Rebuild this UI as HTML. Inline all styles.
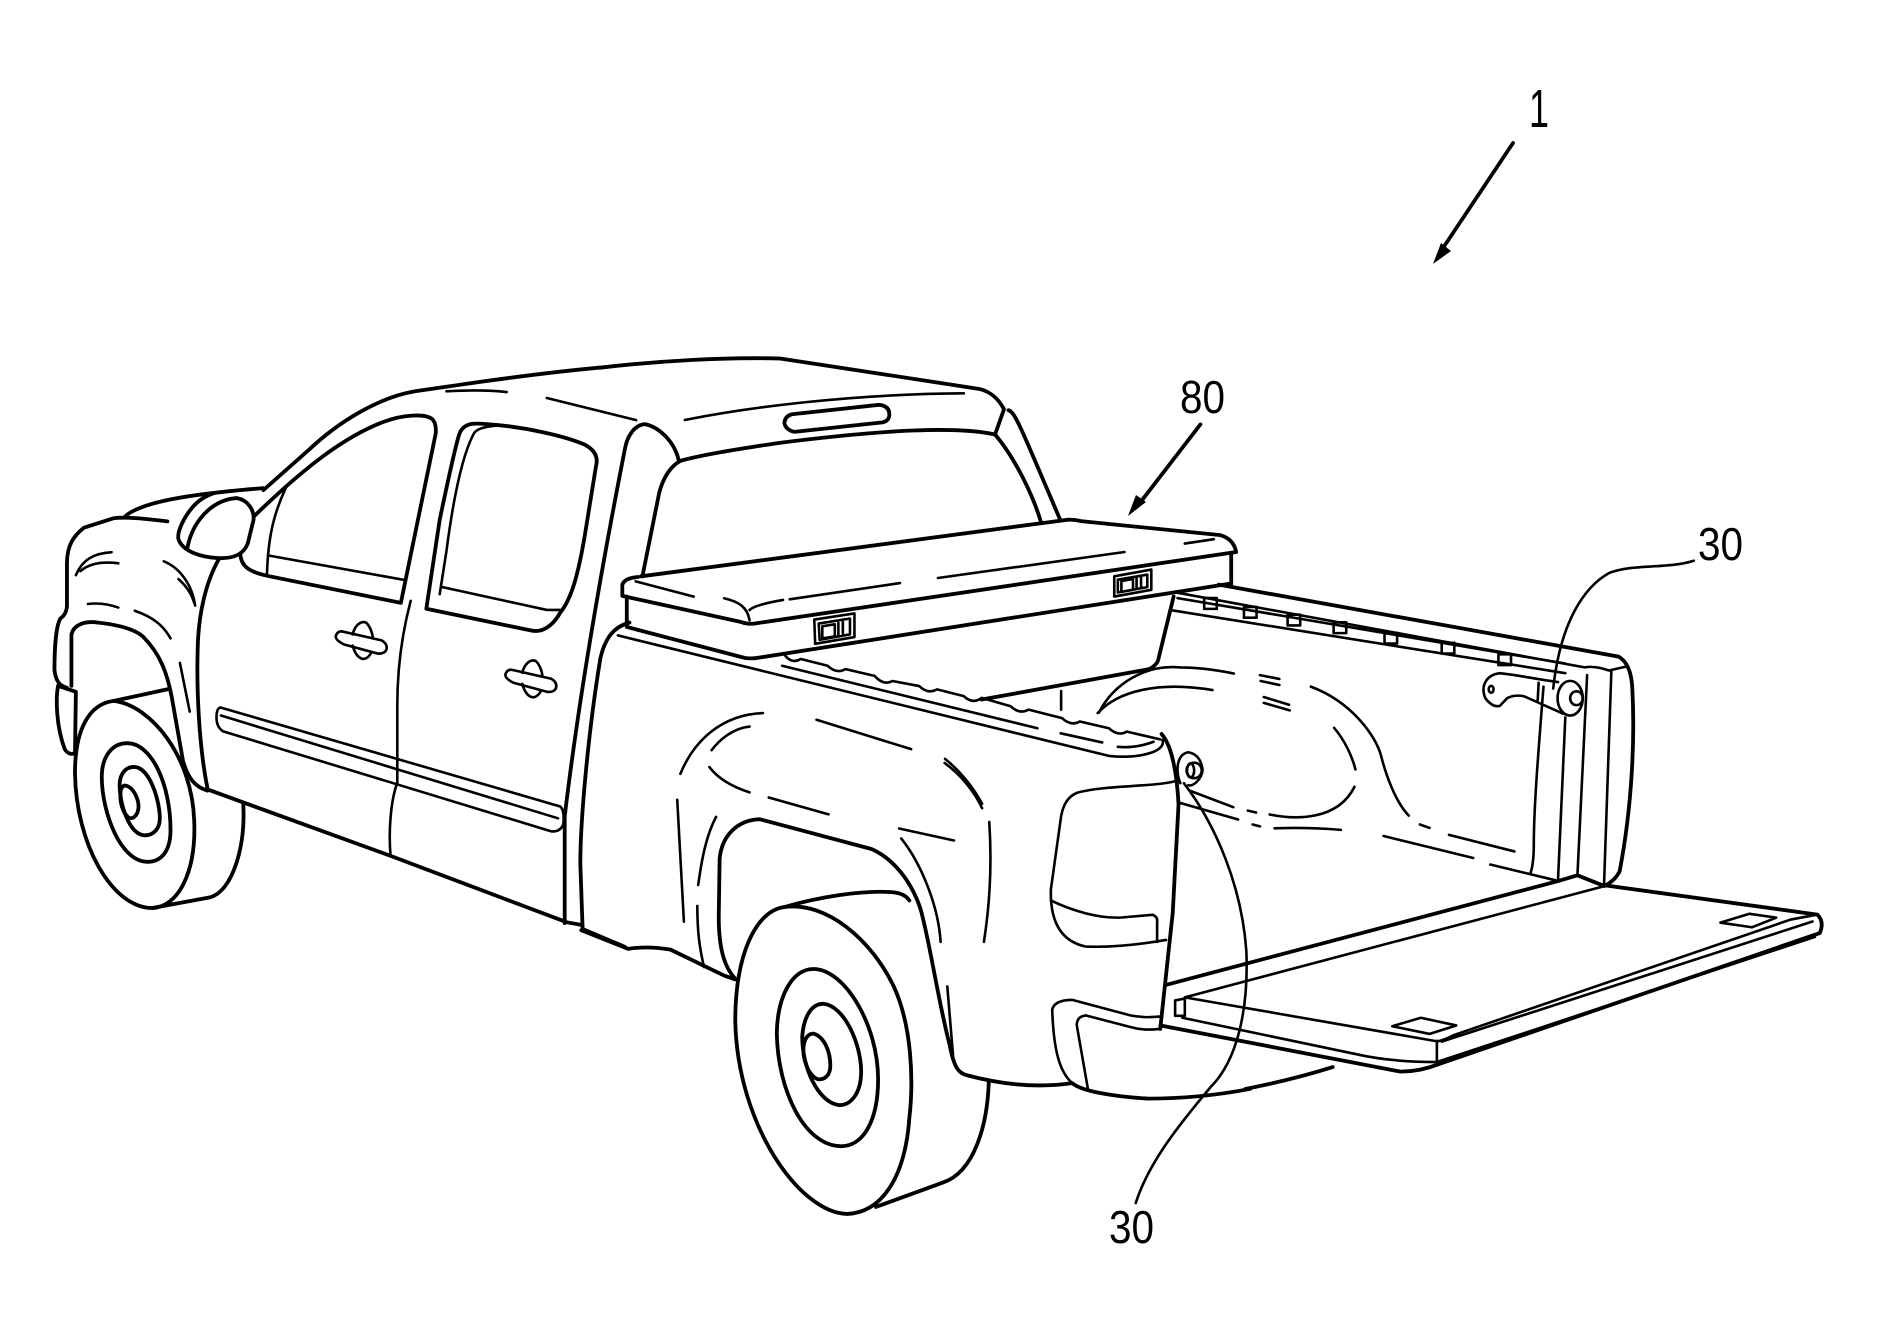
<!DOCTYPE html>
<html><head><meta charset="utf-8"><style>
html,body{margin:0;padding:0;background:#fff;width:1902px;height:1328px;overflow:hidden}
svg{display:block}
path,ellipse{fill:none;stroke:#000;stroke-width:3.8;stroke-linecap:round;stroke-linejoin:round;vector-effect:non-scaling-stroke}
.t,.t path,.t ellipse{stroke-width:2.6}
text{font-family:"Liberation Sans",sans-serif;fill:#000}
</style></head><body>
<svg xmlns="http://www.w3.org/2000/svg" width="1902" height="1328" viewBox="0 0 1902 1328">
<rect width="1902" height="1328" fill="#fff"/>

<!-- front of truck -->
<g transform="translate(0,330) scale(.4464,.3954)">
<path d="M1344 95C1200 110 1050 135 930 155C850 170 760 230 690 305L590 405"/>
<path d="M570 470C680 350 770 270 860 232C900 215 950 210 968 225Q978 235 976 262L898 690L600 622C560 612 540 600 538 565"/>
<path d="M590 400C500 408 400 420 340 440C310 450 290 460 280 472"/>
<path d="M375 484C320 476 280 472 255 476L188 500C165 520 150 545 150 590L150 700Q148 720 135 730C125 750 122 810 122 860C125 890 135 900 150 905"/>
<path d="M420 550C430 490 470 430 530 425C555 430 570 455 568 480L555 540C545 570 520 578 490 577C450 575 410 560 400 530C395 510 415 470 430 450C445 430 460 420 480 412"/>
<path d="M490 580C460 640 445 720 443 800C440 900 445 1050 465 1160"/>
<path d="M160 900L160 770C165 745 190 735 220 740C260 745 300 755 320 775C360 820 375 870 385 930L410 1090C420 1130 435 1155 465 1165"/>
<path d="M465 1162L875 1330L1270 1498L1305 1505M1305 1515L1400 1560"/>
<path d="M255 938C340 950 430 1080 435 1240C440 1370 400 1460 340 1462C250 1460 170 1300 168 1120C168 1010 200 945 255 938"/>
<path d="M255 938L378 908M545 1200C550 1310 520 1420 470 1435L340 1462"/>
<path d="M285 1045C340 1045 382 1150 382 1265C382 1320 360 1345 330 1345C270 1345 228 1220 228 1130C228 1080 250 1045 285 1045"/>
<path d="M300 1105C335 1105 358 1190 358 1235C358 1260 345 1278 325 1278C290 1278 268 1200 268 1150C268 1125 280 1105 300 1105"/>
<path d="M280 1152C300 1155 312 1190 310 1210C308 1230 295 1240 287 1232C275 1220 268 1195 270 1170C270 1160 275 1152 280 1152"/>
<path d="M130 900C125 930 125 1000 145 1060C150 1070 160 1075 168 1070L170 915L130 900"/>
<path d="M955 705L985 480C1000 400 1020 290 1030 260C1040 235 1060 235 1090 238C1180 245 1270 270 1310 290C1335 305 1340 325 1335 345L1310 520C1295 620 1280 680 1255 715C1235 755 1210 765 1190 760Z"/>
<path d="M1520 328C1510 280 1475 245 1445 238C1420 240 1405 270 1400 300C1360 530 1300 900 1265 1230L1265 1500"/>
<path d="M1410 740C1375 750 1355 780 1345 830C1320 1000 1300 1230 1300 1350L1305 1510"/>
<g class="t">
<path d="M600 570L905 632M640 400C615 460 600 520 598 622"/>
<path d="M920 685C900 770 890 860 890 950L890 1145C875 1190 870 1270 875 1330"/>
<path d="M985 668L1000 560C1015 430 1035 320 1060 265C1065 250 1085 245 1110 242M990 650L1225 708L1255 708"/>
<path d="M1000 155Q1080 150 1135 157M1225 172L1425 228"/>
<path d="M170 620C185 580 210 565 250 562M180 610C200 590 230 585 265 590M367 585C400 600 430 640 437 697M400 630C420 650 430 670 435 690M197 693Q230 688 265 702M302 710C340 725 365 745 382 780M403 842L425 965"/>
<path d="M765 762L855 785Q870 795 865 810Q860 820 845 818L770 795Q752 785 752 775Q755 762 765 762M790 770C795 745 810 735 820 740C830 750 835 770 835 780M790 798C795 820 805 832 815 832C825 830 830 820 832 815"/>
<path transform="translate(380,97)" d="M765 762L855 785Q870 795 865 810Q860 820 845 818L770 795Q752 785 752 775Q755 762 765 762M790 770C795 745 810 735 820 740C830 750 835 770 835 780M790 798C795 820 805 832 815 832C825 830 830 820 832 815"/>
<path d="M495 955L1255 1205Q1265 1215 1262 1250Q1255 1270 1235 1268L500 1015Q485 1005 485 980Q485 955 495 955M495 975L1250 1235"/>
</g>
</g>

<!-- cab rear, toolbox, bed rail -->
<g transform="translate(600,340) scale(.4464,.3376)">
<path d="M0 82C130 62 280 50 405 55L850 145C880 155 895 180 905 205L885 280C800 255 640 265 400 305C300 325 230 340 180 358"/>
<path d="M885 280C930 350 970 460 988 540M915 208C930 215 940 250 1030 530"/>
<path d="M180 358C150 380 135 430 130 470L95 700"/>
<path d="M430 220L625 192Q650 195 648 225Q645 245 625 245L435 272Q415 265 413 245Q415 225 430 220"/>
<path d="M92 700L1050 532Q1065 532 1080 537L1390 578Q1420 590 1425 628L345 840Q330 842 315 835L50 758L50 725Q55 705 85 702"/>
<path d="M60 760L60 850L325 942Q340 945 360 940L1410 722M1414 635L1414 725"/>
<path d="M1285 760L1250 950Q1245 965 1230 975L855 1065"/>
<g class="t">
<path d="M190 237C330 200 560 160 815 158"/>
<path d="M80 715L210 760M278 765C310 775 330 790 335 830M335 800Q345 785 410 770M425 768L672 720M757 705L1175 628M1310 603L1375 590"/>
<path d="M480 828L570 810L570 880L482 900ZM490 840L560 825L560 872L492 888ZM498 848L526 842L526 878L498 884ZM534 838L534 874M544 836L544 872"/>
<path d="M1152 700L1235 680L1235 740L1152 760ZM1160 710L1226 695L1226 732L1160 748ZM1168 714L1194 708L1194 740L1168 746ZM1202 704L1202 736M1212 702L1212 734"/>
<path d="M40 875L1140 1232Q1200 1240 1240 1220Q1265 1205 1260 1185"/>
<path d="M408 965L980 1150"/>
<path d="M415 935Q430 960 450 945L510 965Q530 990 550 975L615 995Q635 1025 655 1010L715 1025Q735 1050 755 1035L815 1055Q835 1080 855 1060L920 1085Q940 1110 960 1095L1035 1120Q1055 1145 1075 1130L1140 1150Q1160 1175 1180 1160L1255 1183"/>
<path d="M1032 1165L1125 1192M1160 1205Q1200 1210 1240 1190M1033 1040L1033 1095"/>
<path d="M1118 1103C1150 1020 1220 960 1300 970C1340 970 1390 980 1420 988M1115 1105C1160 1040 1250 1010 1372 1037M1480 1010L1522 1022M1487 1075L1545 1097"/>
<path d="M365 1105C270 1110 210 1190 180 1285M335 1145C300 1150 270 1180 250 1215M245 1265C265 1300 300 1325 335 1340M378 1355L512 1405M485 1125L697 1212M772 1253C810 1290 840 1340 856 1387"/>
</g>
<path d="M1345 250L1205 490"/>
</g>

<!-- rear wheel, bumper -->
<g transform="translate(550,700) scale(.4464,.387)">
<path d="M525 535C620 520 720 620 770 740C810 840 815 980 805 1080C795 1240 740 1325 665 1328C560 1325 420 1100 415 830C415 660 460 545 525 535"/>
<path d="M525 535C600 510 700 490 770 497Q795 500 805 518M983 985C980 1100 950 1220 880 1247L730 1310"/>
<path d="M590 695C660 695 735 840 735 980C735 1090 700 1155 650 1153C570 1150 510 1010 508 860C510 760 545 695 590 695"/>
<path d="M612 785C660 790 697 890 697 960C697 1015 675 1047 648 1047C600 1040 565 950 565 870C568 820 585 785 612 785"/>
<path d="M590 862C615 870 628 910 628 945C628 970 615 982 600 980C578 970 565 925 568 895C570 875 578 862 590 862"/>
<path d="M415 720C390 690 378 640 378 560L380 410C385 350 420 310 470 308L720 385C770 410 810 470 830 540C850 620 870 780 895 890C905 950 915 965 935 970C1000 990 1080 1005 1170 990C1190 1010 1260 1025 1340 1030C1420 1030 1500 1020 1568 1005"/>
<path d="M70 595L175 643Q220 635 270 645L390 712L415 722"/>
<path d="M1370 88C1395 120 1405 200 1408 270L1395 550L1367 850"/>
<g class="t">
<path d="M285 258L300 573M372 302C350 350 340 410 332 478M330 532C330 600 335 640 345 690M885 152C925 190 950 230 968 268M782 332L905 363M787 358C830 420 870 530 875 625M984 315C990 420 985 530 972 625M890 740L903 920"/>
<path d="M1400 210C1350 225 1240 220 1180 240C1160 250 1150 270 1145 300L1122 490C1120 580 1150 625 1200 637C1260 640 1330 630 1380 620M1122 518C1170 545 1230 565 1280 562L1350 555Q1362 560 1360 575L1360 625"/>
<path d="M1170 990C1140 960 1128 900 1125 800Q1130 775 1170 775L1300 815Q1330 822 1365 818M1205 1005L1180 840Q1180 818 1200 815L1300 845Q1330 855 1365 850"/>
<path d="M1420 215C1490 320 1550 480 1560 650C1565 800 1540 930 1480 1000C1400 1110 1340 1200 1312 1300"/>
<path d="M1412 215C1400 180 1405 140 1430 135C1455 140 1460 165 1462 180C1460 205 1440 225 1430 220"/>
<ellipse cx="1443" cy="182" rx="17" ry="20"/><ellipse cx="1435" cy="182" rx="8" ry="18"/>
</g>
</g>

<!-- bed, tailgate -->
<g transform="translate(1100,498) scale(.4847,.385)">
<path d="M245 225L1070 412Q1095 430 1098 490C1104 620 1098 800 1072 970Q1062 995 1040 1008"/>
<path d="M135 1265L945 995L985 980L1035 1005L1480 1082Q1495 1100 1485 1130L700 1470Q660 1490 620 1490L125 1370"/>
<path d="M300 1535Q400 1510 480 1478"/>
<g class="t">
<path d="M155 245L1000 440Q1020 435 1050 448L1085 438M160 260L960 430M150 292L960 455"/>
<path d="M215 260h26v28h-26zM297 283h26v28h-26zM387 303h26v28h-26zM482 323h26v28h-26zM587 350h26v28h-26zM705 376h26v28h-26zM822 406h26v28h-26z"/>
<path d="M1005 460L985 980M1055 450L1040 1000M960 570L945 990M915 490C905 650 895 800 895 900Q895 950 888 975"/>
<g transform="translate(-5,0)">
<path d="M800 520C790 490 800 460 830 455C870 460 900 470 950 478M800 520Q815 545 830 540L845 520Q860 510 880 515L960 560M910 480L908 525"/>
<ellipse cx="975" cy="520" rx="26" ry="45"/><ellipse cx="988" cy="520" rx="13" ry="18"/><ellipse cx="812" cy="497" rx="5" ry="9"/>
</g>
<path d="M1225 163C1170 185 1100 170 1050 195C1000 230 950 320 935 495"/>
<path d="M175 1297L1035 1010M175 1297L690 1410Q700 1415 730 1395L1425 1095L1480 1082M705 1412L1470 1100M170 1350L530 1445Q600 1465 695 1465L1475 1140M695 1410L695 1465"/>
<path d="M155 1305L175 1300L175 1345L155 1345Z"/>
<path d="M1280 1103L1340 1080L1395 1090L1345 1115ZM603 1372L662 1350L735 1370L680 1392Z"/>
<path d="M185 760L275 803M165 792L285 835M305 812L322 817M315 848L330 853M350 822C400 835 490 840 525 750M360 858Q430 855 497 862M585 878L770 935M720 875L855 918M805 952L940 993M660 848L680 857"/>
<path d="M435 490C520 530 570 620 580 670C590 720 610 790 637 825M483 597C505 630 520 670 527 705M330 460L370 470M338 517L390 537"/>
</g>
</g>

<!-- reference arrows & labels -->
<path d="M1513 143L1441 251"/>
<polygon points="1433,264 1441,243 1451,251" fill="#000"/>
<polygon points="1128,516 1136,495 1146,502" fill="#000"/>
<text x="1529" y="127" font-size="54" textLength="20" lengthAdjust="spacingAndGlyphs">1</text>
<text x="1180" y="413" font-size="46" textLength="45" lengthAdjust="spacingAndGlyphs">80</text>
<text x="1698" y="560" font-size="46" textLength="45" lengthAdjust="spacingAndGlyphs">30</text>
<text x="1109" y="1243" font-size="46" textLength="45" lengthAdjust="spacingAndGlyphs">30</text>
</svg>
</body></html>
